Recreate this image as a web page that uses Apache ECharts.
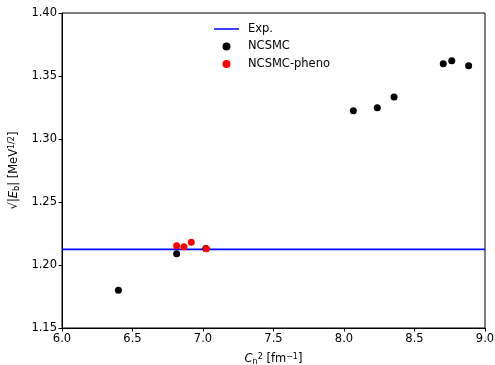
<!DOCTYPE html>
<html>
<head>
<meta charset="utf-8">
<script src="https://cdn.jsdelivr.net/npm/echarts@6/dist/echarts.min.js"></script>
<style>
  html, body { margin: 0; padding: 0; background: #fff; }
  #chart { width: 495px; height: 365px; }
</style>
</head>
<body>
<div id="chart"></div>
<script>
// Experimental value of sqrt(|E_b|)
const expValue = 1.2124;

// NCSMC results: C_n^2 [fm^-1] and sqrt(|E_b|) [MeV^1/2]
const ncsmcX = [6.40, 6.813, 7.02, 8.066, 8.236, 8.355, 8.704, 8.764, 8.884];
const ncsmcY = [1.180, 1.209, 1.213, 1.3225, 1.3249, 1.3333, 1.3598, 1.3622, 1.3582];

// NCSMC-pheno results
const phenoX = [6.813, 6.865, 6.917, 7.024];
const phenoY = [1.2153, 1.2145, 1.2180, 1.2129];

const xTicks = [6.0, 6.5, 7.0, 7.5, 8.0, 8.5, 9.0];
const yTicks = [1.15, 1.20, 1.25, 1.30, 1.35, 1.40];

const font = 'DejaVu Sans';
const fs = 11.5;
const chart = echarts.init(document.getElementById('chart'), null, { renderer: 'canvas' });

const zip = (xs, ys) => xs.map((x, i) => [x, ys[i]]);

const richLabel = {
  i: { fontStyle: 'italic', fontSize: fs, fontFamily: font, color: '#000' },
  sub: { fontSize: 8, verticalAlign: 'bottom', padding: [5, 0, 0, 0], fontFamily: font, color: '#000' },
  sup: { fontSize: 8, verticalAlign: 'top', padding: [0, 0, 5, 0], fontFamily: font, color: '#000' }
};

chart.setOption({
  animation: false,
  backgroundColor: '#fff',
  textStyle: { fontFamily: font },
  grid: {
    left: 62, right: 10, top: 13, bottom: 37,
    containLabel: false,
    outerBoundsMode: 'none',
    show: true, borderColor: '#000', borderWidth: 1, backgroundColor: 'transparent'
  },
  legend: {
    orient: 'vertical',
    left: 209, top: 18,
    itemWidth: 25, itemHeight: 8, itemGap: 5.5,
    textStyle: { fontFamily: font, fontSize: fs, color: '#000', padding: [0, 0, 0, 4] },
    data: [
      { name: 'Exp.', icon: 'path://M0,0H25V1.5H0Z' },
      { name: 'NCSMC', icon: 'circle' },
      { name: 'NCSMC-pheno', icon: 'circle' }
    ]
  },
  xAxis: {
    type: 'value',
    min: xTicks[0], max: xTicks[xTicks.length - 1], interval: 0.5,
    axisLine: { lineStyle: { color: '#000', width: 1 } },
    axisTick: { inside: false, length: 3.5, lineStyle: { color: '#000' } },
    splitLine: { show: false },
    axisLabel: { color: '#000', fontSize: fs, fontFamily: font, margin: 5,
      formatter: v => v.toFixed(1) },
    name: '{i|C}{sub|n}{sup|2} [fm{sup|−1}]',
    nameLocation: 'middle', nameGap: 25,
    nameTextStyle: { color: '#000', fontSize: fs, fontFamily: font, rich: richLabel }
  },
  yAxis: {
    type: 'value',
    min: yTicks[0], max: yTicks[yTicks.length - 1], interval: 0.05,
    axisLine: { show: true, lineStyle: { color: '#000', width: 1 } },
    axisTick: { show: true, inside: false, length: 3.5, lineStyle: { color: '#000' } },
    splitLine: { show: false },
    axisLabel: { color: '#000', fontSize: fs, fontFamily: font, margin: 5,
      formatter: v => v.toFixed(2) },
    name: '√|{i|E}{sub|b}| [MeV{sup|1/2}]',
    nameLocation: 'middle', nameGap: 40, nameRotate: 90,
    nameTextStyle: { color: '#000', fontSize: fs, fontFamily: font, rich: richLabel }
  },
  series: [
    {
      name: 'Exp.',
      type: 'line',
      symbol: 'none',
      data: [[xTicks[0], expValue], [xTicks[xTicks.length - 1], expValue]],
      lineStyle: { color: '#0000ff', width: 1.7 },
      itemStyle: { color: '#0000ff' },
      z: 2
    },
    {
      name: 'NCSMC',
      type: 'scatter',
      symbol: 'circle',
      symbolSize: 7,
      data: zip(ncsmcX, ncsmcY),
      itemStyle: { color: '#000', opacity: 1 },
      z: 3
    },
    {
      name: 'NCSMC-pheno',
      type: 'scatter',
      symbol: 'circle',
      symbolSize: 7,
      data: zip(phenoX, phenoY),
      itemStyle: { color: '#ff0000', opacity: 1 },
      z: 4
    }
  ]
});
</script>
</body>
</html>
